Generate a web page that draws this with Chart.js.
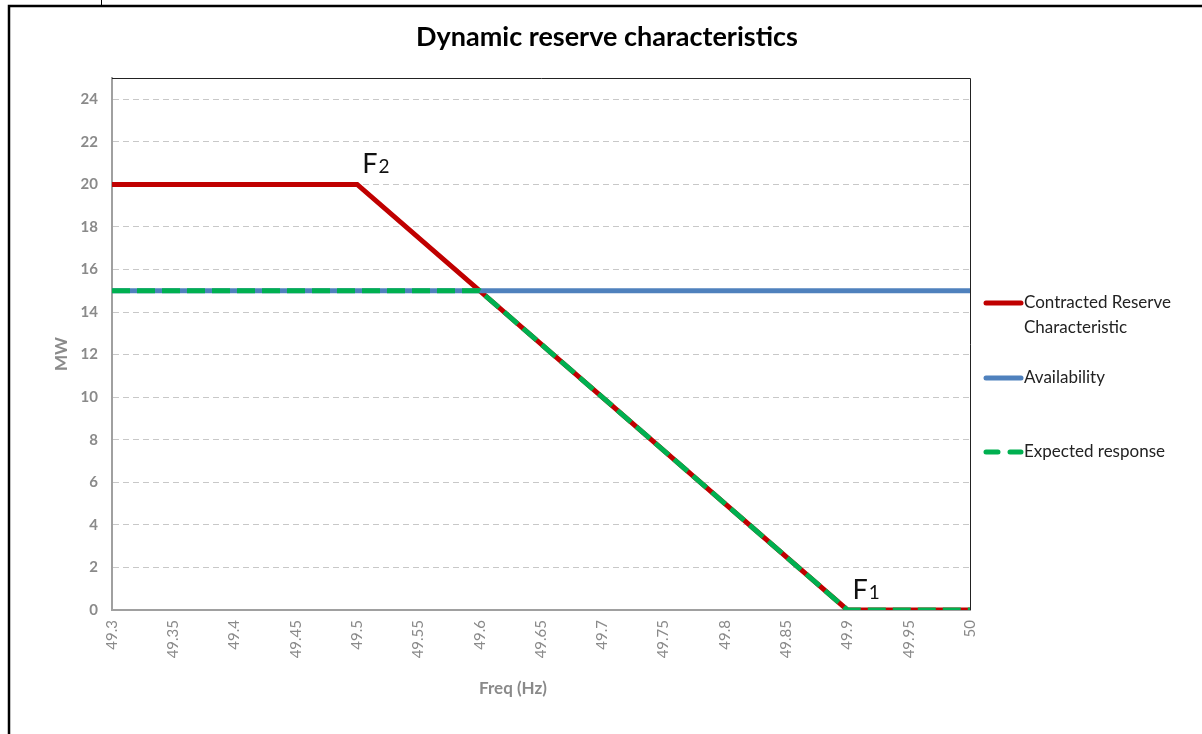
<!DOCTYPE html>
<html>
<head>
<meta charset="utf-8">
<script src="https://cdn.jsdelivr.net/npm/chart.js@4/dist/chart.umd.min.js"></script>
<style>
  html, body { margin: 0; padding: 0; background: #fff; }
  #wrap { position: relative; width: 1202px; height: 734px; }
</style>
</head>
<body>
<div id="wrap"><canvas id="reserveChart" width="1202" height="734"></canvas></div>
<script>
// chart values
const xTicks = [49.3, 49.35, 49.4, 49.45, 49.5, 49.55, 49.6, 49.65, 49.7, 49.75, 49.8, 49.85, 49.9, 49.95, 50]
const yTicks = [0, 2, 4, 6, 8, 10, 12, 14, 16, 18, 20, 22, 24]

const contractedFreq = [49.3, 49.5, 49.9, 50]
const contractedMW = [20, 20, 0, 0]

const availabilityFreq = [49.3, 50]
const availabilityMW = [15, 15]

const expectedFreq = [49.3, 49.6, 49.9, 50]
const expectedMW = [15, 15, 0, 0]

const markerLabels = [
    { name: 'F', sub: '2', x: 49.5, y: 20 },
    { name: 'F', sub: '1', x: 49.9, y: 0 }
]

const FONT = 'Lato, "Noto Sans", sans-serif'
const GRAY = '#8a8a8a'

function toPoints(xs, ys) {
    return xs.map((x, i) => ({ x: x, y: ys[i] }))
}

// Draws title, axis titles, F labels, legend and the outer frame
const decorations = {
    id: 'decorations',
    afterDraw(chart) {
        const ctx = chart.ctx
        const area = chart.chartArea
        const xs = chart.scales.x
        const ys = chart.scales.y

        ctx.save()
        // outer frame lines
        ctx.strokeStyle = '#000'
        ctx.lineWidth = 2.5
        ctx.beginPath()
        ctx.moveTo(9, 734)
        ctx.lineTo(9, 6)
        ctx.lineTo(1202, 6)
        ctx.stroke()
        ctx.lineWidth = 1
        ctx.beginPath()
        ctx.moveTo(101.5, 0)
        ctx.lineTo(101.5, 6)
        ctx.stroke()

        // plot box (top and right in black)
        ctx.strokeStyle = '#222'
        ctx.lineWidth = 1
        ctx.beginPath()
        ctx.moveTo(area.left, area.top + 0.5)
        ctx.lineTo(area.right + 0.5, area.top + 0.5)
        ctx.lineTo(area.right + 0.5, area.bottom)
        ctx.stroke()

        // title
        ctx.fillStyle = '#000'
        ctx.font = 'bold 27px ' + FONT
        ctx.textAlign = 'center'
        ctx.textBaseline = 'middle'
        ctx.fillText('Dynamic reserve characteristics', 607, 37)

        // axis titles
        ctx.fillStyle = GRAY
        ctx.font = 'bold 17px ' + FONT
        ctx.fillText('Freq (Hz)', 513, 689)
        ctx.translate(62, 354)
        ctx.rotate(-Math.PI / 2)
        ctx.fillText('MW', 0, 0)
        ctx.setTransform(1, 0, 0, 1, 0, 0)

        // F1 / F2 labels
        ctx.fillStyle = '#111'
        ctx.textAlign = 'left'
        ctx.textBaseline = 'alphabetic'
        markerLabels.forEach(m => {
            const px = xs.getPixelForValue(m.x) + 5
            const py = ys.getPixelForValue(m.y) - 11
            ctx.font = '27px ' + FONT
            ctx.fillText(m.name, px, py)
            const w = ctx.measureText(m.name).width
            ctx.font = '19px ' + FONT
            ctx.fillText(m.sub, px + w + 1, py)
        })

        // legend
        const items = [
            { ds: chart.data.datasets[0], lines: ['Contracted Reserve', 'Characteristic'], y: 303 },
            { ds: chart.data.datasets[1], lines: ['Availability'], y: 378 },
            { ds: chart.data.datasets[2], lines: ['Expected response'], y: 452 }
        ]
        ctx.font = '17px ' + FONT
        ctx.textBaseline = 'middle'
        items.forEach(it => {
            ctx.strokeStyle = it.ds.borderColor
            ctx.lineWidth = 5
            ctx.lineCap = 'round'
            ctx.setLineDash(it.ds.borderDash ? [12, 12] : [])
            ctx.beginPath()
            ctx.moveTo(986, it.y)
            ctx.lineTo(1021, it.y)
            ctx.stroke()
            ctx.setLineDash([])
            ctx.fillStyle = '#222'
            it.lines.forEach((t, i) => ctx.fillText(t, 1024, it.y + i * 25))
        })
        ctx.restore()
    }
}

new Chart(document.getElementById('reserveChart'), {
    type: 'line',
    data: {
        datasets: [
            {
                label: 'Contracted Reserve Characteristic',
                data: toPoints(contractedFreq, contractedMW),
                borderColor: '#c00000',
                borderWidth: 5,
                pointRadius: 0,
                order: 3
            },
            {
                label: 'Availability',
                data: toPoints(availabilityFreq, availabilityMW),
                borderColor: '#4f81bd',
                borderWidth: 5,
                pointRadius: 0,
                order: 2
            },
            {
                label: 'Expected response',
                data: toPoints(expectedFreq, expectedMW),
                borderColor: '#00b050',
                borderWidth: 5,
                borderDash: [18, 7],
                pointRadius: 0,
                order: 1
            }
        ]
    },
    options: {
        responsive: false,
        animation: false,
        layout: { padding: { top: 78, right: 232, left: 0, bottom: 0 } },
        plugins: {
            legend: { display: false },
            tooltip: { enabled: false }
        },
        scales: {
            x: {
                type: 'linear',
                min: 49.3,
                max: 50,
                afterBuildTicks(scale) {
                    scale.ticks = xTicks.map(v => ({ value: v }))
                },
                afterFit(scale) { scale.height = 124 },
                ticks: {
                    color: GRAY,
                    font: { family: FONT, size: 15 },
                    minRotation: 90,
                    maxRotation: 90,
                    padding: 10,
                    callback: v => String(Math.round(v * 100) / 100)
                },
                grid: { display: false, drawTicks: false },
                border: { color: '#a0a0a0', width: 2 }
            },
            y: {
                min: 0,
                max: 25,
                afterBuildTicks(scale) {
                    scale.ticks = yTicks.map(v => ({ value: v }))
                },
                afterFit(scale) { scale.width = 112 },
                ticks: {
                    color: GRAY,
                    font: { family: FONT, size: 15, weight: 'bold' },
                    padding: 14
                },
                grid: {
                    color: '#c8c8c8',
                    drawTicks: false
                },
                border: { color: '#a0a0a0', width: 2, dash: [6, 4] }
            }
        }
    },
    plugins: [decorations]
})
</script>
</body>
</html>
